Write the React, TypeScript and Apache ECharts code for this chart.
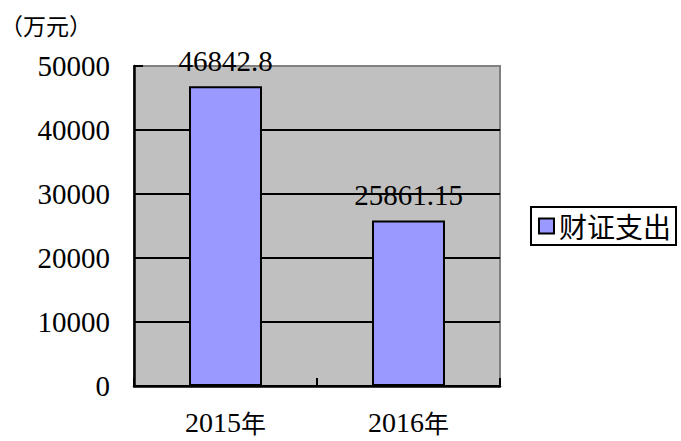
import React, { useEffect, useRef } from "react";
import * as echarts from "echarts";

const categories = ["2015年", "2016年"];
const seriesName = "财证支出";
const values = [46842.8, 25861.15];
const labels = ["46842.8", "25861.15"];
const unitText = "（万元）";

const numFont = "Liberation Serif";
const cjkFont = "Noto Sans CJK SC";

export default function App() {
  const ref = useRef<HTMLDivElement>(null);
  useEffect(() => {
    if (!ref.current) return;
    const chart = echarts.init(ref.current, undefined, { renderer: "svg" });
    chart.setOption({
      animation: false,
      backgroundColor: "#ffffff",
      title: {
        text: unitText,
        left: 0,
        top: 13,
        padding: 0,
        textStyle: { fontFamily: cjkFont, fontSize: 23, fontWeight: "normal", color: "#000" },
      },
      grid: {
        left: 134,
        right: 181,
        top: 66,
        bottom: 55,
        show: true,
        backgroundColor: "#c0c0c0",
        borderColor: "#808080",
        borderWidth: 2,
      },
      legend: {
        data: [seriesName],
        orient: "vertical",
        right: 5,
        top: 207,
        backgroundColor: "#ffffff",
        borderColor: "#000",
        borderWidth: 2,
        padding: [4, 5, 4, 7],
        itemWidth: 15,
        itemHeight: 15,
        itemGap: 6,
        icon: "rect",
        textStyle: { fontFamily: cjkFont, fontSize: 28, color: "#000", lineHeight: 30 },
      },
      xAxis: {
        type: "category",
        data: categories,
        axisLine: { show: true, lineStyle: { color: "#000", width: 2.5 } },
        axisTick: { show: true, inside: true, length: 8, alignWithLabel: false, lineStyle: { color: "#000", width: 2 } },
        axisLabel: {
          margin: 22,
          formatter: (v: string) => "{n|" + v.replace("年", "") + "}{c|年}",
          rich: {
            n: { fontFamily: numFont, fontSize: 28, color: "#000", lineHeight: 28 },
            c: { fontFamily: cjkFont, fontSize: 25, color: "#000", lineHeight: 28 },
          },
        },
        splitLine: { show: false },
      },
      yAxis: {
        type: "value",
        min: 0,
        max: 50000,
        interval: 10000,
        axisLine: { show: true, lineStyle: { color: "#000", width: 2.5 } },
        axisTick: { show: true, inside: true, length: 9, lineStyle: { color: "#000", width: 2 } },
        axisLabel: { fontFamily: numFont, fontSize: 29, color: "#000", margin: 24, formatter: (v: number) => String(v) },
        splitLine: { show: true, showMaxLine: false, lineStyle: { color: "#000", width: 2 } },
      },
      series: [
        {
          name: seriesName,
          type: "bar",
          data: values,
          barWidth: 73,
          itemStyle: { color: "#9999ff", borderColor: "#000", borderWidth: 2 },
          label: {
            show: true,
            position: "top",
            distance: 11,
            fontFamily: numFont,
            fontSize: 29,
            color: "#000",
            formatter: (p: any) => labels[p.dataIndex],
          },
        },
      ],
    });
    return () => chart.dispose();
  }, []);
  return <div ref={ref} style={{ width: 681, height: 441, position: "absolute", left: 0, top: 0 }} />;
}
